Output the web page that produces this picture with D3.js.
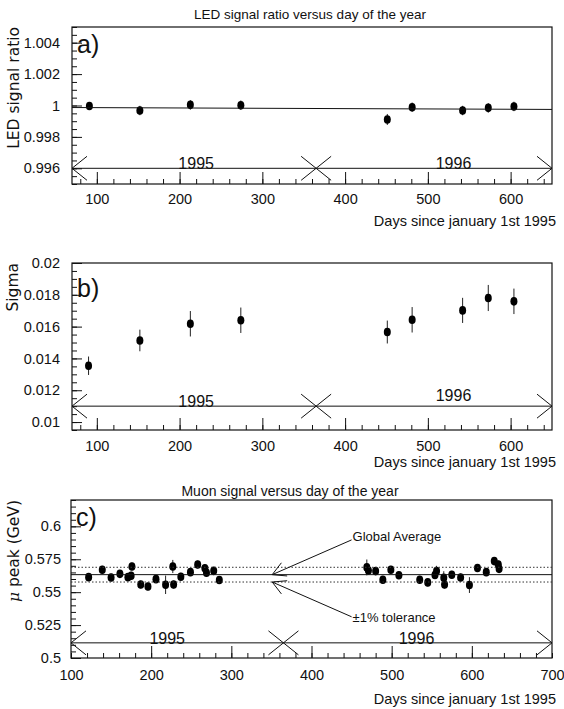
<!DOCTYPE html>
<html>
<head>
<meta charset="utf-8">
<script src="https://cdn.jsdelivr.net/npm/d3@7"></script>
<style>
  body { margin: 0; background: #fff; }
  text { font-family: "Liberation Sans", Arial, sans-serif; fill: #111; }
</style>
</head>
<body>
<svg id="chart" width="564" height="709"></svg>
<script>

/////////////////////////////////////////////////////////////
////////////////////// Data //////////////////////
/////////////////////////////////////////////////////////////

// a) LED signal ratio
var ledDays  = [91, 152, 213, 274, 451, 481, 542, 573, 604];
var ledRatio = [0.99997, 0.99968, 1.00004, 1.00002, 0.99911, 0.99989, 0.99968, 0.99985, 0.99994];
var ledErr   = [0.0002, 0.0003, 0.0003, 0.0003, 0.00035, 0.0003, 0.0003, 0.0003, 0.0003];
var ledFitDays   = [70, 650];
var ledFitValues = [0.99987, 0.99975];
var ledTicks = [0.996, 0.998, 1, 1.002, 1.004];

// b) Sigma
var sigmaDays   = [90, 152, 213, 274, 451, 481, 542, 573, 604];
var sigmaValues = [0.01354, 0.01513, 0.01618, 0.01640, 0.01566, 0.01643, 0.01702, 0.01780, 0.01759];
var sigmaErr    = [0.00058, 0.00068, 0.0008, 0.0008, 0.00072, 0.0008, 0.00079, 0.00082, 0.0008];
var sigmaTicks  = [0.01, 0.012, 0.014, 0.016, 0.018, 0.02];

// c) Muon peak
var muonDays = [122, 139, 150, 161, 171, 175, 176, 187, 196, 206, 218, 227, 228, 237, 249, 258, 267, 269, 278, 285,
                469, 471, 480, 489, 499, 509, 535, 545, 554, 556, 565, 566, 575, 586, 597, 607, 618, 628, 633, 634];
var muonPeak = [0.5614, 0.5670, 0.5611, 0.5639, 0.5614, 0.5625, 0.5695, 0.5558, 0.5543, 0.5599, 0.5556, 0.5695, 0.5558, 0.5617, 0.5652, 0.5710, 0.5682, 0.5647, 0.5662, 0.5592,
                0.5688, 0.5665, 0.5660, 0.5594, 0.5670, 0.5629, 0.5594, 0.5574, 0.5630, 0.5660, 0.5609, 0.5558, 0.5632, 0.5611, 0.5554, 0.5683, 0.5652, 0.5736, 0.5710, 0.5677];
var muonErr  = [0.003, 0.003, 0.003, 0.003, 0.003, 0.003, 0.003, 0.003, 0.003, 0.003, 0.007, 0.005, 0.003, 0.003, 0.003, 0.003, 0.003, 0.003, 0.003, 0.003,
                0.006, 0.003, 0.003, 0.003, 0.003, 0.003, 0.003, 0.003, 0.003, 0.004, 0.005, 0.003, 0.003, 0.003, 0.006, 0.003, 0.003, 0.003, 0.003, 0.003];
var muonAverage = 0.5633;
var muonTolerance = [0.5689, 0.5577];   // +-1% band
var muonTicks = [0.5, 0.525, 0.55, 0.575, 0.6];

var yearNames = ["1995", "1996"];
var yearLabelDays = [220, 531];
var yearBreakDay = 365;

/////////////////////////////////////////////////////////////
////////////////////// Draw //////////////////////
/////////////////////////////////////////////////////////////

var svg = d3.select("#chart");

function drawPanel(p) {
    var g = svg.append("g");
    var x = d3.scaleLinear().domain(p.xDomain).range([p.left, p.right]);
    var y = d3.scaleLinear().domain(p.yDomain).range([p.bottom, p.top]);

    // frame
    g.append("rect")
        .attr("x", p.left).attr("y", p.top)
        .attr("width", p.right - p.left).attr("height", p.bottom - p.top)
        .attr("fill", "none").attr("stroke", "#111").attr("stroke-width", 1.2);

    // x axis: minor ticks every 20 days, major every 100 (inside the frame)
    var xMinor = d3.range(Math.ceil(p.xDomain[0] / 20) * 20, p.xDomain[1] + 1, 20);
    var xMajor = xMinor.filter(function(d){ return d % 100 == 0; });

    var xMin = g.append("g").attr("transform", "translate(0," + p.bottom + ")")
        .call(d3.axisBottom(x).tickValues(xMinor).tickSizeInner(-5).tickSizeOuter(0).tickFormat(""));
    var xMaj = g.append("g").attr("transform", "translate(0," + p.bottom + ")")
        .call(d3.axisBottom(x).tickValues(xMajor.filter(function(d){ return d > p.xDomain[0] && d < p.xDomain[1]; }))
              .tickSizeInner(-12).tickSizeOuter(0).tickFormat(""));
    var xLab = g.append("g").attr("transform", "translate(0," + p.bottom + ")")
        .call(d3.axisBottom(x).tickValues(xMajor).tickSize(0).tickPadding(p.xPad).tickFormat(d3.format("d")));

    // y axis
    var yMinor = d3.range(p.yDomain[0], p.yDomain[1] + p.yMinorStep / 2, p.yMinorStep);
    var yMin = g.append("g").attr("transform", "translate(" + p.left + ",0)")
        .call(d3.axisLeft(y).tickValues(yMinor).tickSizeInner(-5).tickSizeOuter(0).tickFormat(""));
    var yMaj = g.append("g").attr("transform", "translate(" + p.left + ",0)")
        .call(d3.axisLeft(y).tickValues(p.yTicks).tickSizeInner(-10).tickSizeOuter(0)
              .tickPadding(p.yPad).tickFormat(function(d){ return String(d); }));

    [xMin, xMaj, xLab, yMin, yMaj].forEach(function(ax){
        ax.select(".domain").remove();
        ax.selectAll("line").attr("stroke", "#111");
        ax.selectAll("text").attr("font-size", 14.5).attr("fill", "#111")
          .style("font-family", "'Liberation Sans', Arial, sans-serif");
    });

    // year arrows
    var ya = y(p.arrowValue);
    var cx = x(yearBreakDay);
    var ax = 15, ay = 12;
    var arrowPath = "M" + p.left + "," + ya + "L" + p.right + "," + ya +
        "M" + (p.left + ax) + "," + (ya - ay) + "L" + p.left + "," + ya + "L" + (p.left + ax) + "," + (ya + ay) +
        "M" + (p.right - ax) + "," + (ya - ay) + "L" + p.right + "," + ya + "L" + (p.right - ax) + "," + (ya + ay) +
        "M" + (cx - ax) + "," + (ya - ay) + "L" + (cx + ax) + "," + (ya + ay) +
        "M" + (cx - ax) + "," + (ya + ay) + "L" + (cx + ax) + "," + (ya - ay);
    g.append("path").attr("d", arrowPath).attr("fill", "none").attr("stroke", "#111").attr("stroke-width", 1);

    g.selectAll(".year").data(yearNames).enter().append("text")
        .attr("x", function(d, i){ return x(yearLabelDays[i]); })
        .attr("y", function(d, i){ return ya + p.yearDy[i]; })
        .attr("text-anchor", "middle").attr("font-size", 16)
        .text(function(d){ return d; });

    // panel letter
    g.append("text").attr("x", p.left + 5).attr("y", p.top + p.letterDy)
        .attr("font-size", 25).text(p.letter);

    // axis titles
    g.append("text").attr("transform", "translate(" + p.yTitleX + "," + p.top + ") rotate(-90)")
        .attr("text-anchor", "end").attr("font-size", 15.5)
        .style("font-family", "'DejaVu Sans', sans-serif").html(p.yTitle);
    g.append("text").attr("x", 556).attr("y", p.xTitleY)
        .attr("text-anchor", "end").attr("font-size", 14.5).text("Days since january 1st 1995");
    if (p.title) {
        g.append("text").attr("x", p.titleX).attr("y", p.titleY)
            .attr("text-anchor", "middle").attr("font-size", p.titleSize).text(p.title);
    }

    // points with error bars
    var pts = p.days.map(function(d, i){ return {day: d, v: p.values[i], e: p.errors[i]}; });
    g.selectAll(".err").data(pts).enter().append("line")
        .attr("x1", function(d){ return x(d.day); }).attr("x2", function(d){ return x(d.day); })
        .attr("y1", function(d){ return y(d.v - d.e); }).attr("y2", function(d){ return y(d.v + d.e); })
        .attr("stroke", "#222").attr("stroke-width", 1);
    g.selectAll(".pt").data(pts).enter().append("ellipse")
        .attr("cx", function(d){ return x(d.day); }).attr("cy", function(d){ return y(d.v); })
        .attr("rx", 3.5).attr("ry", 4.3).attr("fill", "#000");

    return {g: g, x: x, y: y};
}

// a)
var pa = drawPanel({
    left: 72, right: 552, top: 27, bottom: 184,
    xDomain: [70, 650], yDomain: [0.995, 1.005], yMinorStep: 0.0005,
    yTicks: ledTicks, yPad: 12, xPad: 10,
    arrowValue: 0.996, yearDy: [1, 1],
    letter: "a)", letterDy: 26,
    yTitle: "LED signal ratio", yTitleX: 19, xTitleY: 226,
    title: "LED signal ratio versus day of the year", titleX: 310, titleY: 19, titleSize: 13.5,
    days: ledDays, values: ledRatio, errors: ledErr
});
pa.g.append("path")
    .datum(ledFitDays.map(function(d, i){ return [d, ledFitValues[i]]; }))
    .attr("d", d3.line().x(function(d){ return pa.x(d[0]); }).y(function(d){ return pa.y(d[1]); }))
    .attr("fill", "none").attr("stroke", "#111").attr("stroke-width", 1);

// b)
var pb = drawPanel({
    left: 72, right: 552, top: 263, bottom: 430,
    xDomain: [70, 650], yDomain: [0.0095, 0.02], yMinorStep: 0.0005,
    yTicks: sigmaTicks, yPad: 12, xPad: 11,
    arrowValue: 0.011, yearDy: [1, -5],
    letter: "b)", letterDy: 34,
    yTitle: "Sigma", yTitleX: 18, xTitleY: 467,
    title: null,
    days: sigmaDays, values: sigmaValues, errors: sigmaErr
});

// c)
var pc = drawPanel({
    left: 71, right: 552, top: 500, bottom: 658,
    xDomain: [100, 700], yDomain: [0.5, 0.62], yMinorStep: 0.005,
    yTicks: muonTicks, yPad: 10, xPad: 12,
    arrowValue: 0.5115, yearDy: [1, 1],
    letter: "c)", letterDy: 26,
    yTitle: "<tspan font-style='italic' font-family='DejaVu Serif'>μ</tspan> peak (GeV)", yTitleX: 19, xTitleY: 704,
    title: "Muon signal versus day of the year", titleX: 290, titleY: 496, titleSize: 14,
    days: muonDays, values: muonPeak, errors: muonErr
});

// global average and +-1% band
pc.g.append("line")
    .attr("x1", pc.x(100)).attr("x2", pc.x(700))
    .attr("y1", pc.y(muonAverage)).attr("y2", pc.y(muonAverage))
    .attr("stroke", "#111").attr("stroke-width", 1);
pc.g.selectAll(".tol").data(muonTolerance).enter().append("line")
    .attr("x1", pc.x(100)).attr("x2", pc.x(700))
    .attr("y1", function(d){ return pc.y(d); }).attr("y2", function(d){ return pc.y(d); })
    .attr("stroke", "#333").attr("stroke-width", 1).attr("stroke-dasharray", "1.5,2");

// annotation arrows
var annotTipDay = 351, annotTextDay = 450;
var annot = [
    {tip: muonAverage, end: 0.5897, label: "Global Average", ty: 0.5888},
    {tip: muonTolerance[1], end: 0.5313, label: "\u00b11% tolerance", ty: 0.5272}
];
annot.forEach(function(a){
    var tx = pc.x(annotTipDay), ty = pc.y(a.tip);
    var ex = pc.x(annotTextDay), ey = pc.y(a.end);
    var ang = Math.atan2(ey - ty, ex - tx);
    var len = 15, half = 0.5;
    var p1 = [tx + len * Math.cos(ang - half), ty + len * Math.sin(ang - half)];
    var p2 = [tx + len * Math.cos(ang + half), ty + len * Math.sin(ang + half)];
    pc.g.append("path")
        .attr("d", "M" + ex + "," + ey + "L" + tx + "," + ty +
                   "M" + p1[0] + "," + p1[1] + "L" + tx + "," + ty + "L" + p2[0] + "," + p2[1])
        .attr("fill", "none").attr("stroke", "#111").attr("stroke-width", 1);
    pc.g.append("text").attr("x", ex + 1).attr("y", pc.y(a.ty))
        .attr("font-size", 13).text(a.label);
});

</script>
</body>
</html>
